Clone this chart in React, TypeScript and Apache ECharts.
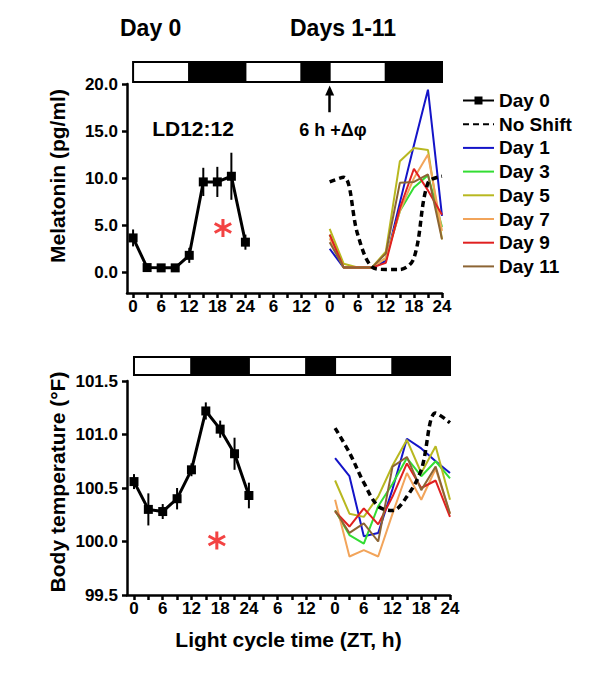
import React, { useEffect, useRef } from "react";
import * as echarts from "echarts";

// ---- Data ----
const HOURS_DAY0 = [0, 3, 6, 9, 12, 15, 18, 21, 24];
const HOURS_SHIFT = [42, 45, 48, 51, 54, 57, 60, 63, 66];
const TICK_HOURS = [0, 3, 6, 9, 12, 15, 18, 21, 24, 27, 30, 33, 36, 39, 42, 45, 48, 51, 54, 57, 60, 63, 66];
const LABEL_HOURS = [0, 6, 12, 18, 24, 30, 36, 42, 48, 54, 60, 66];
const X_TICK_LABELS = ["0", "6", "12", "18", "24", "6", "12", "0", "6", "12", "18", "24"];
const LIGHT_SEGMENTS = [
  [0, 12, 0],
  [12, 24, 1],
  [24, 36, 0],
  [36, 42, 1],
  [42, 54, 0],
  [54, 66, 1],
];

const MEL_TICKS = [0, 5, 10, 15, 20];
const TEMP_TICKS = [99.5, 100, 100.5, 101, 101.5];

// Melatonin (pg/ml)
const MEL_DAY0 = [3.65, 0.5, 0.47, 0.47, 1.8, 9.6, 9.6, 10.2, 3.2];
const MEL_DAY0_ERR = [0.9, 0.3, 0.2, 0.2, 0.8, 1.5, 1.6, 2.5, 0.8];
const MEL_NOSHIFT = [9.6, 10.1, 4.0, 0.6, 0.3, 0.3, 1.5, 9.5, 10.2];
const MEL_DAY1 = [2.5, 0.5, 0.5, 0.5, 1.2, 7.4, 13.5, 19.4, 6.0];
const MEL_DAY3 = [4.0, 0.5, 0.5, 0.5, 1.5, 6.5, 9.0, 10.3, 4.8];
const MEL_DAY5 = [4.6, 0.9, 0.5, 0.5, 2.2, 11.8, 13.2, 13.0, 3.5];
const MEL_DAY7 = [3.6, 0.5, 0.5, 0.5, 1.5, 6.5, 10.0, 12.5, 4.4];
const MEL_DAY9 = [4.0, 0.5, 0.5, 0.5, 1.0, 6.8, 11.0, 8.7, 6.1];
const MEL_DAY11 = [3.2, 0.5, 0.5, 0.5, 2.0, 9.5, 9.6, 10.4, 3.5];

// Body temperature (°F)
const TEMP_DAY0 = [100.56, 100.3, 100.28, 100.4, 100.67, 101.22, 101.05, 100.82, 100.43];
const TEMP_DAY0_ERR = [0.07, 0.15, 0.07, 0.1, 0.06, 0.08, 0.08, 0.15, 0.12];
const TEMP_NOSHIFT = [101.06, 100.83, 100.55, 100.33, 100.29, 100.42, 100.67, 101.2, 101.11];
const TEMP_DAY1 = [100.78, 100.61, 100.05, 100.08, 100.49, 100.96, 100.87, 100.75, 100.64];
const TEMP_DAY3 = [100.29, 100.06, 99.98, 100.33, 100.54, 100.78, 100.61, 100.75, 100.59];
const TEMP_DAY5 = [100.57, 100.26, 100.23, 100.42, 100.71, 100.95, 100.64, 100.89, 100.39];
const TEMP_DAY7 = [100.39, 99.86, 99.92, 99.86, 100.26, 100.64, 100.39, 100.68, 100.26];
const TEMP_DAY9 = [100.28, 100.14, 100.31, 100.16, 100.42, 100.73, 100.5, 100.57, 100.23];
const TEMP_DAY11 = [100.29, 100.08, 100.17, 100.0, 100.7, 100.79, 100.48, 100.7, 100.26];

const MEL_STAR = [19.2, 4.7];
const TEMP_STAR = [17.3, 100.01];

const DAY_NAMES = ["Day 1", "Day 3", "Day 5", "Day 7", "Day 9", "Day 11"];
const DAY_COLORS = ["#1414c8", "#33dd33", "#b8b820", "#f2a45a", "#e02020", "#8c6434"];
const LEGEND_NAMES = ["Day 0", "No Shift", ...DAY_NAMES];

const FONT = "'Liberation Sans', Arial, sans-serif";

const STAR_PATH =
  "path://M42 0H58V100H42Z M10.7 81.93L2.7 68.07L89.3 18.07L97.3 31.93Z M2.7 31.93L10.7 18.07L97.3 68.07L89.3 81.93Z";

function pairs(xs: number[], ys: number[]) {
  return xs.map((x, i) => [x, ys[i]]);
}

function lightBarSeries(gi: number, yMax: number, offset: number, h: number) {
  return {
    type: "custom",
    xAxisIndex: gi,
    yAxisIndex: gi,
    clip: false,
    silent: true,
    data: LIGHT_SEGMENTS,
    encode: { x: [0, 1] },
    renderItem: (_p: any, api: any) => {
      const a = api.coord([api.value(0), yMax]);
      const b = api.coord([api.value(1), yMax]);
      return {
        type: "rect",
        shape: { x: a[0], y: a[1] - offset - h, width: b[0] - a[0], height: h },
        style: { fill: api.value(2) ? "#000" : "#fff", stroke: "#000", lineWidth: 2 },
      };
    },
  };
}

function errorSeries(gi: number, xs: number[], ys: number[], err: number[]) {
  return {
    type: "custom",
    xAxisIndex: gi,
    yAxisIndex: gi,
    silent: true,
    clip: false,
    data: xs.map((x, i) => [x, ys[i] - err[i], ys[i] + err[i]]),
    encode: { x: 0, y: [1, 2] },
    renderItem: (_p: any, api: any) => {
      const lo = api.coord([api.value(0), api.value(1)]);
      const hi = api.coord([api.value(0), api.value(2)]);
      return {
        type: "line",
        shape: { x1: lo[0], y1: lo[1], x2: hi[0], y2: hi[1] },
        style: { stroke: "#000", lineWidth: 2 },
      };
    },
  };
}

function xAxis(gi: number, min: number, withName: boolean) {
  return {
    type: "value",
    gridIndex: gi,
    min,
    max: 66,
    name: withName ? "Light cycle time (ZT, h)" : "",
    nameLocation: "middle",
    nameGap: 34,
    nameTextStyle: { fontSize: 21, fontWeight: "bold", color: "#000", fontFamily: FONT },
    axisLine: { onZero: false, lineStyle: { color: "#000", width: 2.5 } },
    axisTick: { show: true, inside: false, length: 5, customValues: TICK_HOURS, lineStyle: { color: "#000", width: 2.5 } },
    axisLabel: {
      customValues: LABEL_HOURS,
      formatter: (v: number) => X_TICK_LABELS[LABEL_HOURS.indexOf(v)] ?? "",
      fontSize: 17,
      fontWeight: "bold",
      color: "#000",
      fontFamily: FONT,
      margin: 5,
    },
    splitLine: { show: false },
  };
}

function yAxis(gi: number, min: number, max: number, ticks: number[]) {
  return {
    type: "value",
    gridIndex: gi,
    min,
    max,
    axisLine: { show: true, onZero: false, lineStyle: { color: "#000", width: 2.5 } },
    axisTick: { show: true, inside: false, length: 5, customValues: ticks, lineStyle: { color: "#000", width: 2.5 } },
    axisLabel: {
      customValues: ticks,
      formatter: (v: number) => v.toFixed(1),
      fontSize: 17,
      fontWeight: "bold",
      color: "#000",
      fontFamily: FONT,
      margin: 9,
    },
    splitLine: { show: false },
  };
}

function buildPanel(
  gi: number,
  day0: number[],
  day0Err: number[],
  noShift: number[],
  days: number[][],
  star: number[],
  yMax: number,
  barOffset: number,
  barH: number,
  withArrow: boolean
) {
  const s: any[] = [];
  s.push(lightBarSeries(gi, yMax, barOffset, barH));
  s.push(errorSeries(gi, HOURS_DAY0, day0, day0Err));
  days.forEach((d, i) => {
    s.push({
      type: "line",
      name: DAY_NAMES[i],
      xAxisIndex: gi,
      yAxisIndex: gi,
      data: pairs(HOURS_SHIFT, d),
      symbol: "none",
      lineStyle: { color: DAY_COLORS[i], width: 2 },
      itemStyle: { color: DAY_COLORS[i] },
      z: 3,
    });
  });
  const ns: any = {
    type: "line",
    name: "No Shift",
    xAxisIndex: gi,
    yAxisIndex: gi,
    data: pairs(HOURS_SHIFT, noShift),
    symbol: "none",
    smooth: 0.35,
    lineStyle: { color: "#000", width: 3.5, type: [6, 4] },
    itemStyle: { color: "#000" },
    z: 4,
  };
  if (withArrow) {
    ns.markLine = {
      silent: true,
      symbol: ["none", "triangle"],
      symbolSize: [9, 10],
      label: { show: false },
      lineStyle: { color: "#000", width: 2.5, type: "solid" },
      data: [[{ coord: [42, 17.0] }, { coord: [42, 19.3] }]],
    };
  }
  s.push(ns);
  s.push({
    type: "line",
    name: "Day 0",
    xAxisIndex: gi,
    yAxisIndex: gi,
    data: pairs(HOURS_DAY0, day0),
    symbol: "rect",
    symbolSize: 9,
    lineStyle: { color: "#000", width: 3 },
    itemStyle: { color: "#000" },
    z: 5,
  });
  s.push({
    type: "scatter",
    xAxisIndex: gi,
    yAxisIndex: gi,
    data: [star],
    symbol: STAR_PATH,
    symbolSize: 18,
    itemStyle: { color: "#f01414" },
    silent: true,
  });
  return s;
}

export default function App() {
  const ref = useRef<HTMLDivElement>(null);
  useEffect(() => {
    if (!ref.current) return;
    const chart = echarts.init(ref.current, null, { renderer: "svg" });
    const series = [
      ...buildPanel(0, MEL_DAY0, MEL_DAY0_ERR, MEL_NOSHIFT,
        [MEL_DAY1, MEL_DAY3, MEL_DAY5, MEL_DAY7, MEL_DAY9, MEL_DAY11], MEL_STAR, 20, 2, 20, true),
      ...buildPanel(1, TEMP_DAY0, TEMP_DAY0_ERR, TEMP_NOSHIFT,
        [TEMP_DAY1, TEMP_DAY3, TEMP_DAY5, TEMP_DAY7, TEMP_DAY9, TEMP_DAY11], TEMP_STAR, 101.5, 6, 18, false),
    ];
    const legendData = LEGEND_NAMES.map((n) =>
      n === "Day 0" ? { name: n } : { name: n, itemStyle: { opacity: 0 } }
    );
    chart.setOption({
      animation: false,
      backgroundColor: "#fff",
      textStyle: { fontFamily: FONT },
      grid: [
        { left: 127, top: 84, width: 315, height: 209 },
        { left: 127, top: 381, width: 323, height: 214 },
      ],
      xAxis: [xAxis(0, -1.3, false), xAxis(1, -1.46, true)],
      yAxis: [yAxis(0, -2.2, 20, MEL_TICKS), yAxis(1, 99.5, 101.5, TEMP_TICKS)],
      legend: {
        data: legendData,
        orient: "vertical",
        left: 462,
        top: 91,
        padding: 0,
        itemWidth: 31,
        itemHeight: 10,
        itemGap: 4.7,
        selectedMode: false,
        textStyle: { fontSize: 19, fontWeight: "bold", color: "#000", fontFamily: FONT },
      },
      graphic: [
        { type: "text", x: 120, y: 28, style: { text: "Day 0", font: `bold 23px ${FONT}`, fill: "#000", textVerticalAlign: "middle" } },
        { type: "text", x: 290, y: 28, style: { text: "Days 1-11", font: `bold 23px ${FONT}`, fill: "#000", textVerticalAlign: "middle" } },
        { type: "text", x: 193, y: 128, style: { text: "LD12:12", font: `bold 21px ${FONT}`, fill: "#000", textAlign: "center", textVerticalAlign: "middle" } },
        { type: "text", x: 333, y: 130, style: { text: "6 h +Δφ", font: `bold 18px ${FONT}`, fill: "#000", textAlign: "center", textVerticalAlign: "middle" } },
        { type: "text", x: 57, y: 176, rotation: Math.PI / 2, style: { text: "Melatonin (pg/ml)", font: `bold 21px ${FONT}`, fill: "#000", textAlign: "center", textVerticalAlign: "middle" } },
        { type: "text", x: 57, y: 482, rotation: Math.PI / 2, style: { text: "Body temperature (°F)", font: `bold 21px ${FONT}`, fill: "#000", textAlign: "center", textVerticalAlign: "middle" } },
      ],
      series,
    });
    return () => chart.dispose();
  }, []);
  return <div ref={ref} style={{ width: 600, height: 683, position: "absolute", left: 0, top: 0 }} />;
}
